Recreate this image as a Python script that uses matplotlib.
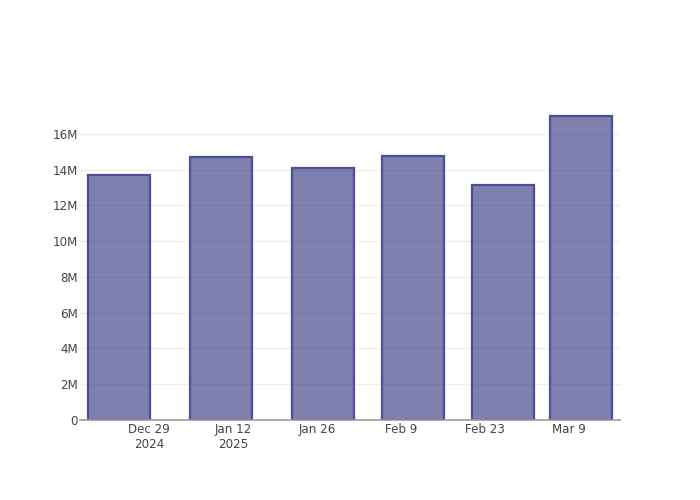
import numpy as np
import pandas as pd
import matplotlib
matplotlib.use("Agg")
import matplotlib.pyplot as plt
import matplotlib.dates as mdates

# data
dates = pd.to_datetime(["2024-12-24", "2025-01-10", "2025-01-27",
                        "2025-02-11", "2025-02-26", "2025-03-11"])
values = [13.72e6, 14.72e6, 14.10e6, 14.78e6, 13.16e6, 17.02e6]

tick_dates = pd.to_datetime(["2024-12-29", "2025-01-12", "2025-01-26",
                             "2025-02-09", "2025-02-23", "2025-03-09"])
tick_labels = ["Dec 29\n2024", "Jan 12\n2025", "Jan 26", "Feb 9", "Feb 23", "Mar 9"]
y_ticks = [0, 2e6, 4e6, 6e6, 8e6, 10e6, 12e6, 14e6, 16e6]
y_labels = ["0", "2M", "4M", "6M", "8M", "10M", "12M", "14M", "16M"]

fig = plt.figure(figsize=(7, 5), dpi=100)
ax = fig.add_axes([80 / 700, 80 / 500, 540 / 700, 320 / 500])

x = mdates.date2num(dates)
width = 0.8 * np.min(np.diff(x))
ax.bar(x, values, width=width, color=(25 / 255, 25 / 255, 112 / 255, 0.55),
       edgecolor="#4d4d96", linewidth=1.6, zorder=2)

pad = 8 / 5.98
ax.set_xlim(x[0] - width / 2 - pad, x[-1] + width / 2 + pad)
ax.set_ylim(0, 17.9e6)

ax.set_xticks(mdates.date2num(tick_dates))
ax.set_xticklabels(tick_labels)
ax.set_yticks(y_ticks)
ax.set_yticklabels(y_labels)
ax.tick_params(axis="both", length=0, labelsize=8.6, labelcolor="#444444")
ax.tick_params(axis="x", pad=2)
ax.tick_params(axis="y", pad=1.5)

ax.grid(axis="y", color="#eeeeee", linewidth=1, zorder=0)
ax.set_axisbelow(True)
for s in ["top", "right", "left"]:
    ax.spines[s].set_visible(False)
ax.spines["bottom"].set_color("#999999")
ax.spines["bottom"].set_linewidth(1.2)
ax.spines["bottom"].set_zorder(3)

fig.savefig("out.png", dpi=100)
